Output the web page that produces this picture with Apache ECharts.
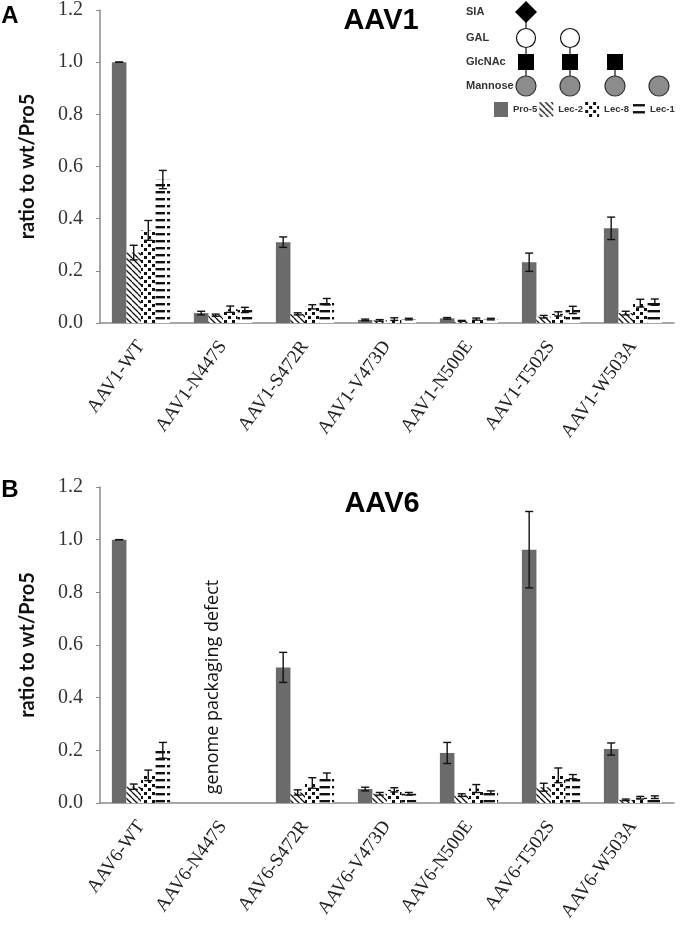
<!DOCTYPE html>
<html>
<head>
<meta charset="utf-8">
<script src="https://cdn.jsdelivr.net/npm/echarts@6/dist/echarts.min.js"></script>
<style>
html,body{margin:0;padding:0;background:#fff;}
#chart{width:680px;height:925px;}
</style>
</head>
<body>
<div id="chart"></div>
<script>
// ---------- data ----------
const seriesNames = ['Pro-5', 'Lec-2', 'Lec-8', 'Lec-1'];
const categoriesAAV1 = ['AAV1-WT', 'AAV1-N447S', 'AAV1-S472R', 'AAV1-V473D', 'AAV1-N500E', 'AAV1-T502S', 'AAV1-W503A'];
const categoriesAAV6 = ['AAV6-WT', 'AAV6-N447S', 'AAV6-S472R', 'AAV6-V473D', 'AAV6-N500E', 'AAV6-T502S', 'AAV6-W503A'];
const yTicks = [0.0, 0.2, 0.4, 0.6, 0.8, 1.0, 1.2];

const aav1Pro5 = [1.0, 0.038, 0.31, 0.012, 0.018, 0.233, 0.363];
const aav1Pro5Err = [0.0, 0.007, 0.02, 0.003, 0.003, 0.035, 0.043];
const aav1Lec2 = [0.27, 0.03, 0.035, 0.01, 0.008, 0.024, 0.038];
const aav1Lec2Err = [0.028, 0.004, 0.004, 0.003, 0.002, 0.005, 0.007];
const aav1Lec8 = [0.355, 0.053, 0.062, 0.015, 0.015, 0.035, 0.076];
const aav1Lec8Err = [0.038, 0.012, 0.008, 0.005, 0.004, 0.008, 0.015];
const aav1Lec1 = [0.55, 0.05, 0.082, 0.015, 0.015, 0.05, 0.08];
const aav1Lec1Err = [0.035, 0.01, 0.012, 0.003, 0.003, 0.014, 0.012];

const aav6Pro5 = [1.0, null, 0.515, 0.053, 0.19, 0.962, 0.205];
const aav6Pro5Err = [0.0, null, 0.057, 0.007, 0.04, 0.145, 0.023];
const aav6Lec2 = [0.062, null, 0.04, 0.035, 0.03, 0.06, 0.012];
const aav6Lec2Err = [0.01, null, 0.01, 0.005, 0.005, 0.015, 0.003];
const aav6Lec8 = [0.105, null, 0.076, 0.05, 0.055, 0.105, 0.02];
const aav6Lec8Err = [0.02, null, 0.02, 0.008, 0.015, 0.028, 0.005];
const aav6Lec1 = [0.2, null, 0.1, 0.035, 0.04, 0.1, 0.022];
const aav6Lec1Err = [0.03, null, 0.014, 0.005, 0.006, 0.008, 0.005];

const defectLabel = 'genome packaging defect';
const defectCategory = 1;

// ---------- patterns ----------
function makeTile(w, h, draw) {
  const c = document.createElement('canvas');
  c.width = w; c.height = h;
  const ctx = c.getContext('2d');
  ctx.fillStyle = '#fff';
  ctx.fillRect(0, 0, w, h);
  draw(ctx);
  return { image: c, repeat: 'repeat' };
}
const solidGray = '#6b6b6b';
const hatchDiag = makeTile(6, 6, ctx => {
  ctx.strokeStyle = '#111'; ctx.lineWidth = 1.3;
  for (const o of [-6, 0, 6]) { ctx.beginPath(); ctx.moveTo(o, 0); ctx.lineTo(o + 6, 6); ctx.stroke(); }
});
const dots = makeTile(8, 8, ctx => {
  ctx.fillStyle = '#111';
  ctx.fillRect(0, 0, 3, 3);
  ctx.fillRect(4, 4, 3, 3);
});
const hlines = makeTile(15, 7, ctx => {
  ctx.fillStyle = '#111';
  ctx.fillRect(2, 2, 13, 2.4);
});
const fills = [solidGray, hatchDiag, dots, hlines];

// ---------- chart ----------
const chart = echarts.init(document.getElementById('chart'), null, { renderer: 'canvas' });

const CAT_GAP = 0.29;
function errRender(k) {
  return function (params, api) {
    const v = api.value(1), e = api.value(2);
    if (v == null || isNaN(v)) return null;
    const x = api.value(0);
    const band = api.size([1, 0])[0];
    const bw = band * (1 - CAT_GAP) / 4;
    const cx = api.coord([x, v])[0] + (k - 1.5) * bw;
    const yt = api.coord([x, v + e])[1];
    const yb = api.coord([x, Math.max(v - e, 0)])[1];
    const hw = 4;
    const st = { stroke: '#111', lineWidth: 1.4 };
    return {
      type: 'group',
      children: [
        { type: 'line', shape: { x1: cx, y1: yt, x2: cx, y2: yb }, style: st },
        { type: 'line', shape: { x1: cx - hw, y1: yt, x2: cx + hw, y2: yt }, style: st },
        { type: 'line', shape: { x1: cx - hw, y1: yb, x2: cx + hw, y2: yb }, style: st }
      ]
    };
  };
}

const panels = [
  { cats: categoriesAAV1, vals: [aav1Pro5, aav1Lec2, aav1Lec8, aav1Lec1], errs: [aav1Pro5Err, aav1Lec2Err, aav1Lec8Err, aav1Lec1Err] },
  { cats: categoriesAAV6, vals: [aav6Pro5, aav6Lec2, aav6Lec8, aav6Lec1], errs: [aav6Pro5Err, aav6Lec2Err, aav6Lec8Err, aav6Lec1Err] }
];

const grids = [
  { left: 100, top: 9, width: 574, height: 314 },
  { left: 100, top: 487, width: 574, height: 316 }
];

const serifFont = '"Liberation Serif", "DejaVu Serif", serif';
const sansBold = '"Liberation Sans", Arial, sans-serif';

const xAxes = panels.map((p, i) => ({
  type: 'category', gridIndex: i, data: p.cats,
  axisLine: { lineStyle: { color: '#8a8a8a', width: 1.5 } },
  axisTick: { show: false },
  axisLabel: { rotate: 54, margin: 20, fontFamily: serifFont, fontSize: 19, color: '#222', interval: 0 }
}));
const yAxes = panels.map((p, i) => ({
  type: 'value', gridIndex: i, min: yTicks[0], max: yTicks[yTicks.length - 1], interval: 0.2,
  name: 'ratio to wt/Pro5', nameLocation: 'middle', nameGap: 62,
  nameTextStyle: { fontFamily: 'Lato, "Open Sans", sans-serif', fontWeight: 'bold', fontSize: 20, color: '#111' },
  axisLine: { show: true, lineStyle: { color: '#8a8a8a', width: 1.5 } },
  axisTick: { show: true, length: 4, lineStyle: { color: '#8a8a8a' } },
  splitLine: { show: false },
  axisLabel: { margin: 17, fontFamily: serifFont, fontSize: 20, color: '#333', formatter: v => v.toFixed(1) }
}));

const series = [];
panels.forEach((p, gi) => {
  p.vals.forEach((vals, k) => {
    series.push({
      type: 'bar', name: seriesNames[k], xAxisIndex: gi, yAxisIndex: gi,
      data: vals, barGap: '0%', barCategoryGap: (CAT_GAP * 100) + '%',
      itemStyle: { color: fills[k] }, z: 2
    });
  });
});
panels.forEach((p, gi) => {
  p.vals.forEach((vals, k) => {
    series.push({
      type: 'custom', name: seriesNames[k], xAxisIndex: gi, yAxisIndex: gi,
      renderItem: errRender(k),
      data: vals.map((v, i) => [i, v, p.errs[k][i]]),
      encode: { x: 0, y: 1 }, z: 5, silent: true
    });
  });
});

// glycan diagram (decoration)
const cols = [526, 570, 615, 659];
const rowY = { sia: 12, gal: 38, glc: 62, man: 86 };
const glycan = [];
const lineSt = { stroke: '#111', lineWidth: 1.2 };
const stacks = [['sia', 'gal', 'glc', 'man'], ['gal', 'glc', 'man'], ['glc', 'man'], ['man']];
stacks.forEach((st, ci) => {
  const x = cols[ci];
  if (st.length > 1) {
    glycan.push({ type: 'line', shape: { x1: x, y1: rowY[st[0]], x2: x, y2: rowY.man }, style: lineSt, z: 10 });
  }
  st.forEach(r => {
    const y = rowY[r];
    if (r === 'sia') glycan.push({ type: 'polygon', shape: { points: [[x, y - 11], [x + 11, y], [x, y + 11], [x - 11, y]] }, style: { fill: '#000' }, z: 11 });
    if (r === 'gal') glycan.push({ type: 'circle', shape: { cx: x, cy: y, r: 9.5 }, style: { fill: '#fff', stroke: '#111', lineWidth: 1.2 }, z: 11 });
    if (r === 'glc') glycan.push({ type: 'rect', shape: { x: x - 8, y: y - 8, width: 16, height: 16 }, style: { fill: '#000' }, z: 11 });
    if (r === 'man') glycan.push({ type: 'circle', shape: { cx: x, cy: y, r: 10 }, style: { fill: '#8c8c8c', stroke: '#333', lineWidth: 1.2 }, z: 11 });
  });
});
[['SIA', rowY.sia], ['GAL', rowY.gal], ['GlcNAc', rowY.glc], ['Mannose', rowY.man]].forEach(([t, y]) => {
  glycan.push({ type: 'text', x: 466, y: y, style: { text: t, font: 'bold 11px ' + sansBold, fill: '#333', textAlign: 'left', textVerticalAlign: 'middle' }, z: 12 });
});

const option = {
  animation: false,
  backgroundColor: '#fff',
  grid: grids,
  xAxis: xAxes,
  yAxis: yAxes,
  legend: {
    data: seriesNames.map(n => ({ name: n, icon: 'rect' })),
    left: 494, top: 102, width: 200, padding: 0, itemWidth: 14, itemHeight: 15, itemGap: 2,
    textStyle: { fontFamily: sansBold, fontWeight: 'bold', fontSize: 9.5, color: '#333' },
    selectedMode: false
  },
  series: series,
  graphic: [
    { type: 'text', x: 10, y: 16, style: { text: 'A', font: 'bold 24px ' + sansBold, fill: '#000', textAlign: 'center', textVerticalAlign: 'middle' } },
    { type: 'text', x: 10, y: 490, style: { text: 'B', font: 'bold 24px ' + sansBold, fill: '#000', textAlign: 'center', textVerticalAlign: 'middle' } },
    { type: 'text', x: 381, y: 21, style: { text: 'AAV1', font: 'bold 29px ' + sansBold, fill: '#000', textAlign: 'center', textVerticalAlign: 'middle' } },
    { type: 'text', x: 382, y: 504, style: { text: 'AAV6', font: 'bold 29px ' + sansBold, fill: '#000', textAlign: 'center', textVerticalAlign: 'middle' } }
  ].concat(glycan)
};
chart.setOption(option);

// annotation positioned at the N447S category of AAV6 via the axis scale
const px = chart.convertToPixel({ xAxisIndex: 1, yAxisIndex: 1 }, [defectCategory, 0.6]);
chart.setOption({
  graphic: option.graphic.concat([{
    type: 'text', x: px[0] - 10, y: 687, rotation: Math.PI / 2,
    style: { text: defectLabel, font: '18px "Open Sans", "Noto Sans", sans-serif', fill: '#111', textAlign: 'center', textVerticalAlign: 'middle' }
  }])
});
</script>
</body>
</html>
